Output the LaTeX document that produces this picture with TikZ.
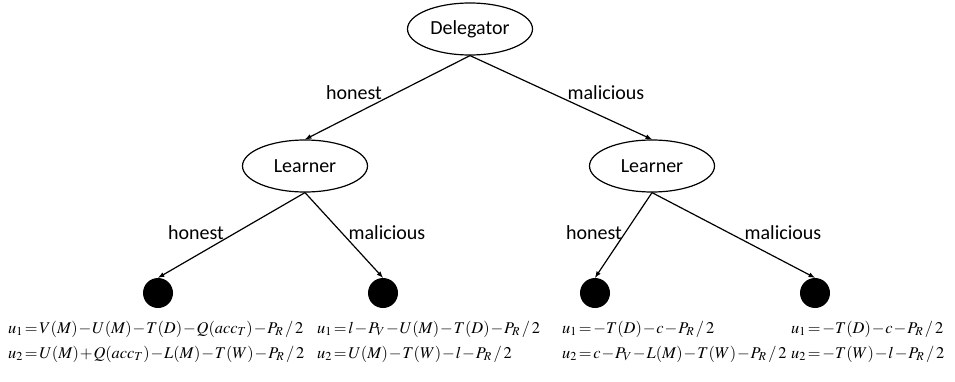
\documentclass[tikz,border=0pt]{standalone}
\usepackage{mathptmx}
\usepackage{fontspec}
\usepackage{amsmath}
\setmainfont{Carlito}
\usetikzlibrary{shapes.geometric}
\usetikzlibrary{positioning}
\usetikzlibrary{arrows,calc}

\begin{document}
\begin{tikzpicture} [
    x=1pt, y=1pt,
    player/.style = { ellipse, draw, line width=1.2pt, minimum width=125pt,
                      minimum height=52pt, inner sep=0pt,
                      font=\fontsize{20}{24}\selectfont },
    leaf/.style   = { circle, fill=black, minimum size=30pt, inner sep=0pt },
    choice/.style = { font=\fontsize{20}{24}\selectfont, inner sep=0pt },
    payoff/.style = { anchor=west, align=left, inner sep=0pt,
                      font=\fontsize{16.4}{25}\selectfont,
                      execute at begin node={\medmuskip=1mu\relax
                                             \thickmuskip=2mu\relax} },
    line/.style   = { draw, line width=1.2pt, -latex },
  ]
  \useasboundingbox (0,0) rectangle (955,381);
  \node (delegator) [player] at (470,352) {Delegator} ;
  \node (learnerL) [player] at (305,215) {Learner} ;
  \node (learnerR) [player] at (652,215) {Learner} ;
  \node (hh) [leaf] at (158,88) {};
  \node (hm) [leaf] at (383,88) {};
  \node (mh) [leaf] at (595,88) {};
  \node (mm) [leaf] at (815,88) {};
  % labels of the moves
  \node (dh) [choice] at (354,288) {honest};
  \node (dm) [choice] at (606,288) {malicious};
  \node (lhh) [choice] at (196,148) {honest};
  \node (lhm) [choice] at (387,148) {malicious};
  \node (lmh) [choice] at (594,148) {honest};
  \node (lmm) [choice] at (783,148) {malicious};
  % payoffs
  \node (uhh) [payoff] at (8,39.5)
    {$u_1=V(M)-U(M)-T(D)-Q(acc_T)-P_R\,/\,2$\\
     $u_2=U(M)+Q(acc_T)-L(M)-T(W)-P_R\,/\,2$};
  \node (uhm) [payoff] at (317,39.5)
    {$u_1=l-P_V-U(M)-T(D)-P_R\,/\,2$\\
     $u_2=U(M)-T(W)-l-P_R\,/\,2$};
  \node (umh) [payoff] at (562,39.5)
    {$u_1=-T(D)-c-P_R\,/\,2$\\
     $u_2=c-P_V-L(M)-T(W)-P_R\,/\,2$};
  \node (umm) [payoff] at (791,39.5)
    {$u_1=-T(D)-c-P_R\,/\,2$\\
     $u_2=-T(W)-l-P_R\,/\,2$};

  % connect nodes
  \begin{scope}[every path/.style=line]
  \path (delegator.south) -- (learnerL.north);
  \path (delegator.south) -- (learnerR.north);
  \path (learnerL.south) -- (hh.north);
  \path (learnerL.south) -- (hm.north);
  \path (learnerR.south) -- (mh.north);
  \path (learnerR.south) -- (mm.north);
  \end{scope}

\end{tikzpicture}
\end{document}
